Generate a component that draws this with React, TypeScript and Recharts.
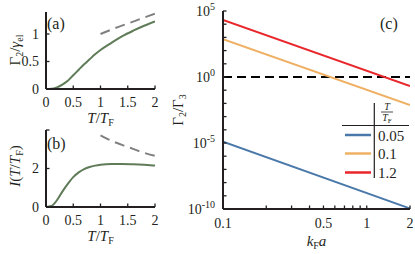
import React from "react";
import { LineChart, Line, XAxis, YAxis, ReferenceLine } from "recharts";

const FONT = "'Liberation Serif', 'Times New Roman', serif";
const INK = "#231f20";
const GREEN = "#5f7b57";
const GREY = "#808080";

// panels (a) and (b): functions of T/T_F
const tGrid = [0, 0.1, 0.2, 0.3, 0.4, 0.5, 0.6, 0.7, 0.8, 0.9, 1.0, 1.2, 1.4, 1.6, 1.8, 2.0];
const gammaRatio = [0, 0.004, 0.03, 0.08, 0.15, 0.25, 0.35, 0.45, 0.54, 0.63, 0.71, 0.84, 0.96, 1.06, 1.15, 1.23];
const integralI = [0, 0.05, 0.35, 0.8, 1.2, 1.55, 1.8, 1.97, 2.08, 2.15, 2.2, 2.24, 2.24, 2.22, 2.19, 2.15];
const tHigh = [1, 1.25, 1.5, 1.75, 2];
const gammaHighT = [1.0, 1.1, 1.19, 1.28, 1.37];
const integralHighT = [3.72, 3.38, 3.12, 2.86, 2.66];
const tTicks = [0, 0.5, 1, 1.5, 2];

// panel (c): Gamma2/Gamma3 vs k_F a
const kfa = [0.1, 2];
const ratioT005 = [1.26e-5, 1.1e-10];
const ratioT01 = [720, 7.6e-3];
const ratioT12 = [2.1e4, 0.21];
const legendTemps = ["0.05", "0.1", "1.2"];
const legendKeys = ["t005", "t01", "t12"];
const legendColors = ["#4a78a9", "#efb064", "#e8262b"];
const kTicks = [0.1, 0.2, 0.3, 0.4, 0.5, 0.6, 0.7, 0.8, 0.9, 1, 2];
const kLabels = [0.1, 0.5, 1, 2];
const decadeTicks = [1e-10, 1e-9, 1e-8, 1e-7, 1e-6, 1e-5, 1e-4, 1e-3, 1e-2, 1e-1, 1, 1e1, 1e2, 1e3, 1e4, 1e5];
const decadeLabels = [1e-10, 1e-5, 1, 1e5];

const toPts = (xs: number[], ys: number[]) => xs.map((x, i) => ({ x, y: ys[i] }));
const ratioTable = kfa.map((k, i) => ({ k, t005: ratioT005[i], t01: ratioT01[i], t12: ratioT12[i] }));

type Side = "bottom" | "top" | "left" | "right";
const GAP = 6;
const serif = { fontFamily: FONT };

function makeTick(side: Side, fmt?: (v: number) => React.ReactNode, off = 18, len = 3.5) {
  return (props: any) => {
    const { x, y, payload } = props;
    const label = fmt ? fmt(payload.value) : null;
    if (side === "bottom") {
      const ax = y - GAP;
      return (
        <g>
          <line x1={x} x2={x} y1={ax} y2={ax - len} stroke={INK} strokeWidth={1.3} />
          {label !== null && (
            <text x={x} y={ax + off} textAnchor="middle" fill={INK} fontSize={14} style={serif}>{label}</text>
          )}
        </g>
      );
    }
    if (side === "top") {
      const ax = y + GAP;
      return <line x1={x} x2={x} y1={ax} y2={ax + len} stroke={INK} strokeWidth={1.3} />;
    }
    if (side === "left") {
      const ax = x + GAP;
      return (
        <g>
          <line x1={ax} x2={ax + len} y1={y} y2={y} stroke={INK} strokeWidth={1.3} />
          {label !== null && (
            <text x={ax - off} y={y + 4.8} textAnchor="end" fill={INK} fontSize={14} style={serif}>{label}</text>
          )}
        </g>
      );
    }
    const ax = x - GAP;
    return <line x1={ax} x2={ax - len} y1={y} y2={y} stroke={INK} strokeWidth={1.3} />;
  };
}

const plain = (v: number) => String(v);
const kFmt = (v: number) => (kLabels.some((l) => Math.abs(l - v) < 1e-9) ? String(v) : null);
const decFmt = (v: number) => {
  if (!decadeLabels.some((l) => Math.abs(Math.log10(l) - Math.log10(v)) < 1e-6)) return null;
  const e = Math.round(Math.log10(v));
  return (
    <>
      <tspan>10</tspan>
      <tspan dy={-6} fontSize={10}>{e}</tspan>
    </>
  );
};
const onlyAt = (vals: number[]) => (v: number) => (vals.includes(v) ? String(v) : null);

const axisLine = { stroke: INK, strokeWidth: 2 };
const tickAxisProps = { tickLine: false, tickSize: 0, tickMargin: GAP, interval: 0 as const, axisLine };

const TLabel = (props: any) => {
  const { x, width, y } = props.viewBox;
  return (
    <text x={x + width / 2} y={y + 34} textAnchor="middle" fill={INK} fontSize={15} style={serif}>
      <tspan fontStyle="italic">T</tspan>
      <tspan>/</tspan>
      <tspan fontStyle="italic">T</tspan>
      <tspan dy={3} fontSize={10}>F</tspan>
    </text>
  );
};

function SmallPanel(props: {
  top: number;
  xHeight: number;
  yMax: number;
  yTicks: number[];
  yLabeled: number[];
  main: number[];
  high: number[];
  tag: string;
  tagY: number;
  yLabel: React.ReactNode;
}) {
  return (
    <div style={{ position: "absolute", left: 0, top: props.top }}>
      <LineChart width={160} height={12 + 77 + props.xHeight} margin={{ top: 12, right: 5, left: 0, bottom: 0 }}>
        <XAxis dataKey="x" type="number" domain={[0, 2]} ticks={tTicks} allowDataOverflow height={props.xHeight}
          tick={makeTick("bottom", plain)} label={{ content: TLabel }} {...tickAxisProps} />
        <XAxis xAxisId="top" orientation="top" type="number" domain={[0, 2]} ticks={tTicks} allowDataOverflow height={0}
          tick={makeTick("top")} {...tickAxisProps} />
        <YAxis type="number" domain={[0, props.yMax]} ticks={props.yTicks} allowDataOverflow width={46}
          tick={makeTick("left", onlyAt(props.yLabeled), 7)} {...tickAxisProps} />
        <YAxis yAxisId="right" orientation="right" type="number" domain={[0, props.yMax]} ticks={props.yTicks}
          allowDataOverflow width={0} tick={makeTick("right")} {...tickAxisProps} />
        <Line data={toPts(tHigh, props.high)} dataKey="y" type="monotone" stroke={GREY} strokeWidth={2}
          strokeDasharray="10 6" dot={false} isAnimationActive={false} />
        <Line data={toPts(tGrid, props.main)} dataKey="y" type="monotone" stroke={GREEN} strokeWidth={2}
          dot={false} isAnimationActive={false} />
        <text x={47} y={props.tagY} fill={INK} fontSize={16} style={serif}>{props.tag}</text>
        {props.yLabel}
      </LineChart>
    </div>
  );
}

function RatioPanel() {
  const lx = 180;
  const ly = 100;
  return (
    <div style={{ position: "absolute", left: 160, top: 0 }}>
      <LineChart width={255} height={254} data={ratioTable} margin={{ top: 11, right: 5, left: 0, bottom: 0 }}>
        <XAxis dataKey="k" type="number" scale="log" domain={[0.1, 2]} ticks={kTicks} allowDataOverflow height={45}
          tick={makeTick("bottom", kFmt, 19)} {...tickAxisProps}
          label={{
            content: (p: any) => (
              <text x={p.viewBox.x + p.viewBox.width / 2} y={p.viewBox.y + 37} textAnchor="middle" fill={INK}
                fontSize={15} style={serif}>
                <tspan fontStyle="italic">k</tspan>
                <tspan dy={3} fontSize={10}>F</tspan>
                <tspan dy={-3} fontStyle="italic">a</tspan>
              </text>
            ),
          }} />
        <XAxis xAxisId="top" orientation="top" type="number" scale="log" domain={[0.1, 2]} ticks={kTicks}
          allowDataOverflow height={0} tick={makeTick("top")} {...tickAxisProps} />
        <YAxis type="number" scale="log" domain={[1e-10, 1e5]} ticks={decadeTicks} allowDataOverflow width={63}
          tick={makeTick("left", decFmt, 8)} {...tickAxisProps} />
        <YAxis yAxisId="right" orientation="right" type="number" scale="log" domain={[1e-10, 1e5]}
          ticks={decadeTicks} allowDataOverflow width={0} tick={makeTick("right")} {...tickAxisProps} />
        <ReferenceLine y={1} stroke="#000" strokeWidth={2} strokeDasharray="9 5" />
        {legendKeys.map((key, i) => (
          <Line key={key} dataKey={key} type="linear" stroke={legendColors[i]} strokeWidth={2} dot={false}
            isAnimationActive={false} />
        ))}
        <text x={220} y={29} fill={INK} fontSize={16} style={serif}>(c)</text>
        <text transform="rotate(-90, 23, 110)" x={23} y={110} textAnchor="middle" fill={INK} fontSize={15} style={serif}>
          <tspan>Γ</tspan>
          <tspan dy={3} fontSize={10}>2</tspan>
          <tspan dy={-3}>/Γ</tspan>
          <tspan dy={3} fontSize={10}>3</tspan>
        </text>
        <g fill={INK} style={serif}>
          <line x1={lx + 34.3} x2={lx + 34.3} y1={ly + 3} y2={ly + 78} stroke={INK} strokeWidth={1.2} />
          <line x1={lx + 2} x2={lx + 69} y1={ly + 25.5} y2={ly + 25.5} stroke={INK} strokeWidth={1.2} />
          <text x={lx + 47} y={ly + 10} textAnchor="middle" fontSize={10} fontStyle="italic">T</text>
          <line x1={lx + 41} x2={lx + 53} y1={ly + 12} y2={ly + 12} stroke={INK} strokeWidth={0.8} />
          <text x={lx + 47} y={ly + 21} textAnchor="middle" fontSize={10}>
            <tspan fontStyle="italic">T</tspan>
            <tspan dy={2} fontSize={7}>F</tspan>
          </text>
          {legendTemps.map((t, i) => {
            const ry = ly + [35, 53.5, 72.5][i];
            return (
              <g key={t}>
                <line x1={lx + 5} x2={lx + 31} y1={ry} y2={ry} stroke={legendColors[i]} strokeWidth={2.5} />
                <text x={lx + 38} y={ry + 5.5} fontSize={15}>{t}</text>
              </g>
            );
          })}
        </g>
      </LineChart>
    </div>
  );
}

export default function App() {
  return (
    <div style={{ position: "absolute", left: 0, top: 0, width: 415, height: 254, background: "#fff", overflow: "hidden", fontFamily: FONT }}>
      <SmallPanel top={0} xHeight={40} yMax={1.4} yTicks={[0, 0.5, 1]} yLabeled={[0, 0.5, 1]}
        main={gammaRatio} high={gammaHighT} tag="(a)" tagY={28.5}
        yLabel={
          <text transform="rotate(-90, 20, 50)" x={20} y={50} textAnchor="middle" fill={INK} fontSize={15} style={serif}>
            <tspan>Γ</tspan>
            <tspan dy={3} fontSize={10}>2</tspan>
            <tspan dy={-3}>/</tspan>
            <tspan fontStyle="italic">γ</tspan>
            <tspan dy={3} fontSize={10}>el</tspan>
          </text>
        } />
      <SmallPanel top={118} xHeight={40} yMax={4} yTicks={[0, 2, 4]} yLabeled={[0, 2]}
        main={integralI} high={integralHighT} tag="(b)" tagY={31}
        yLabel={
          <text transform="rotate(-90, 20, 48)" x={20} y={48} textAnchor="middle" fill={INK} fontSize={15} style={serif}>
            <tspan fontStyle="italic">I</tspan>
            <tspan>(</tspan>
            <tspan fontStyle="italic">T</tspan>
            <tspan>/</tspan>
            <tspan fontStyle="italic">T</tspan>
            <tspan dy={3} fontSize={10}>F</tspan>
            <tspan dy={-3}>)</tspan>
          </text>
        } />
      <RatioPanel />
    </div>
  );
}
